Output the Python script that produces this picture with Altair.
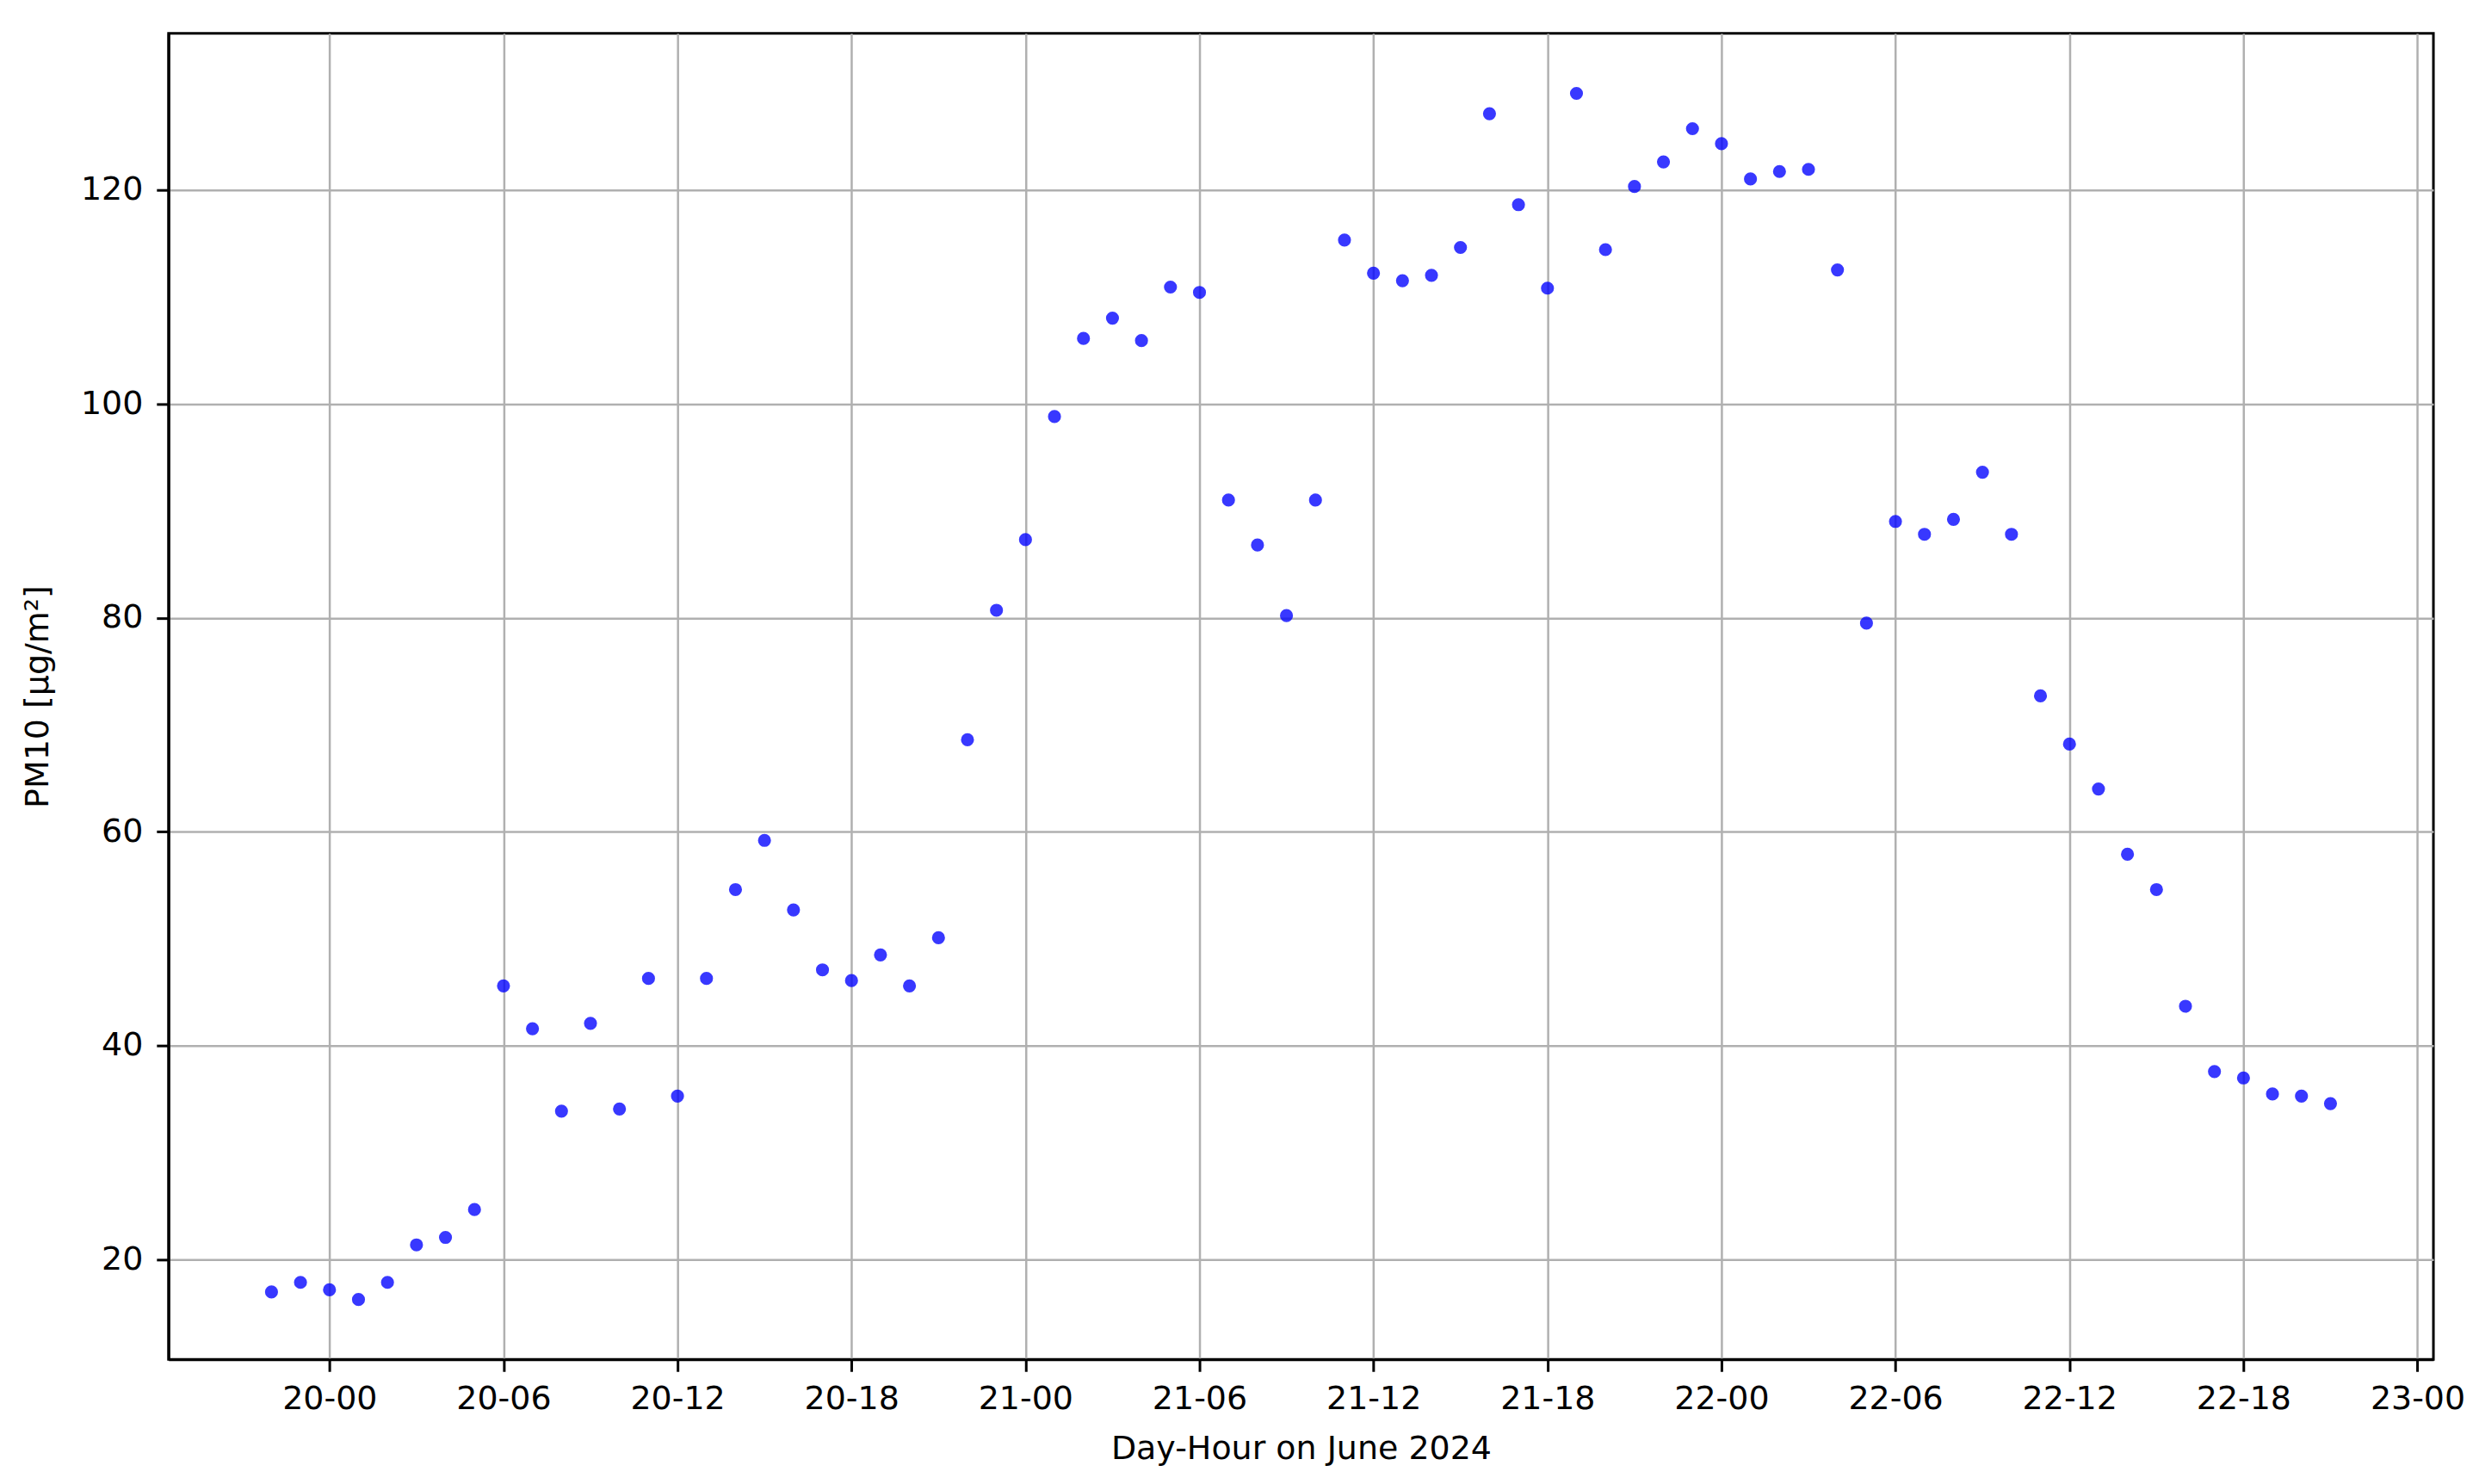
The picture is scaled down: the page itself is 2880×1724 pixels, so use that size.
import altair as alt
import pandas as pd

# PM10 readings (µg/m²) per day of June 2024, hourly
hours_jun19 = [22, 23]
pm10_jun19 = [17.0, 17.9]

hours_jun20 = list(range(0, 24))
pm10_jun20 = [17.2, 16.3, 17.9, 21.4, 22.1, 24.7, 45.6, 41.6, 33.9, 42.1, 34.1, 46.3,
              35.3, 46.3, 54.6, 59.2, 52.7, 47.1, 46.1, 48.5, 45.6, 50.1, 68.6, 80.7]

hours_jun21 = list(range(0, 24))
pm10_jun21 = [87.3, 98.8, 106.1, 108.0, 105.9, 110.9, 110.4, 91.0, 86.8, 80.2, 91.0, 115.3,
              112.2, 111.5, 112.0, 114.6, 127.1, 118.6, 110.8, 129.0, 114.4, 120.3, 122.6, 125.7]

hours_jun22 = list(range(0, 22))
pm10_jun22 = [124.3, 121.0, 121.7, 121.9, 112.5, 79.5, 89.0, 87.8, 89.2, 93.6, 87.8, 72.7,
              68.2, 64.0, 57.9, 54.6, 43.7, 37.6, 37.0, 35.5, 35.3, 34.6]

y_ticks = [20, 40, 60, 80, 100, 120]
x_tick_days_hours = [(20, 0), (20, 6), (20, 12), (20, 18), (21, 0), (21, 6), (21, 12),
                     (21, 18), (22, 0), (22, 6), (22, 12), (22, 18), (23, 0)]

rows = []
for day, hrs, vals in [(19, hours_jun19, pm10_jun19), (20, hours_jun20, pm10_jun20),
                       (21, hours_jun21, pm10_jun21), (22, hours_jun22, pm10_jun22)]:
    for h, v in zip(hrs, vals):
        rows.append({"time": f"2024-06-{day:02d}T{h:02d}:00:00", "pm10": v})
df = pd.DataFrame(rows)

x_values = [alt.DateTime(year=2024, month=6, date=d, hours=h) for d, h in x_tick_days_hours]
x_domain = [alt.DateTime(year=2024, month=6, date=19, hours=18, minutes=27),
            alt.DateTime(year=2024, month=6, date=23, hours=0, minutes=33)]

FONT = "DejaVu Sans"
FS = 38

chart = alt.Chart(df).mark_circle(color="#0000ff", opacity=0.78, size=230).encode(
    x=alt.X("time:T",
            scale=alt.Scale(domain=x_domain, nice=False),
            axis=alt.Axis(values=x_values, format="%d-%H", title="Day-Hour on June 2024",
                          labelPadding=13, titleY=104, titleBaseline="middle",
                          labelFlush=False, labelOverlap=False)),
    y=alt.Y("pm10:Q",
            scale=alt.Scale(domain=[10.7, 134.6], nice=False, zero=False),
            axis=alt.Axis(values=y_ticks, title="PM10 [µg/m²]", labelPadding=16,
                          titleX=-151, titleBaseline="middle", titleAngle=-90)),
).properties(
    width=2634, height=1542,
    autosize=alt.AutoSizeParams(type="none"),
    padding={"left": 188, "top": 30, "right": 45, "bottom": 136},
).configure(
    font=FONT,
).configure_view(
    stroke="black", strokeWidth=3, fill="white",
).configure_axis(
    labelFont=FONT, titleFont=FONT, labelFontSize=FS, titleFontSize=FS,
    labelColor="black", titleColor="black", titleFontWeight="normal",
    grid=True, gridColor="#b0b0b0", gridWidth=2.5,
    domain=True, domainColor="black", domainWidth=3,
    ticks=True, tickColor="black", tickWidth=3, tickSize=14,
)

chart.save("out.html", embed_options={"renderer": "svg", "actions": False})
